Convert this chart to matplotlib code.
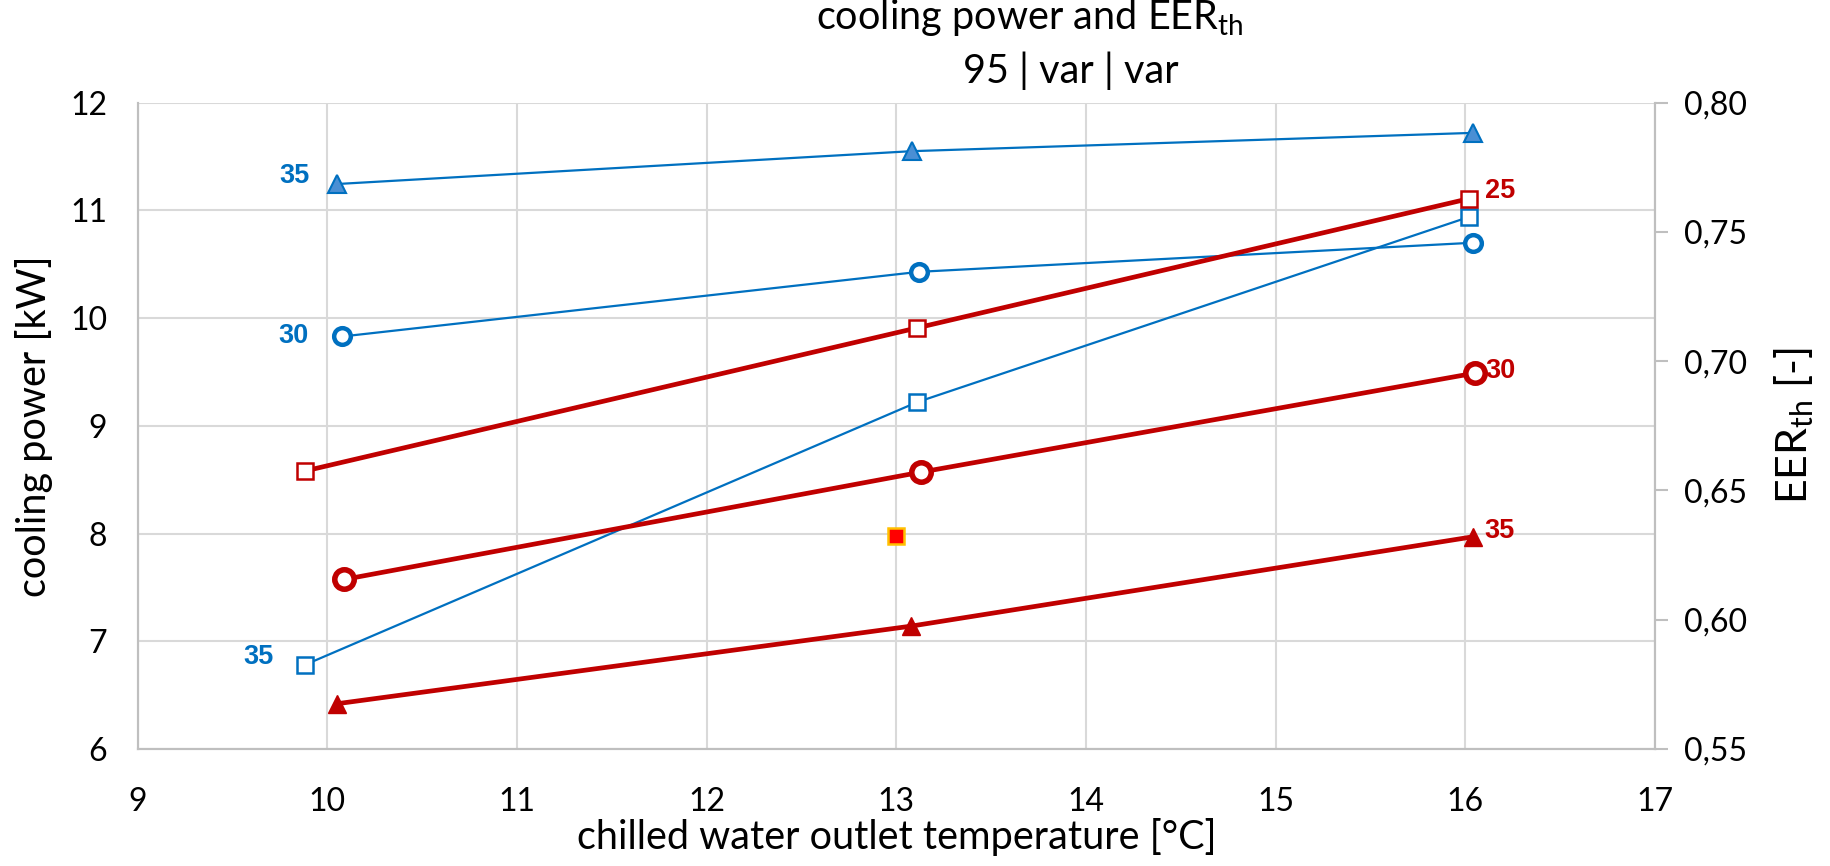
import numpy as np
import matplotlib
matplotlib.use("Agg")
import matplotlib.pyplot as plt
from matplotlib.ticker import FuncFormatter

plt.rcParams['font.family'] = ['Lato', 'DejaVu Sans']
plt.rcParams['mathtext.fontset'] = 'custom'
plt.rcParams['mathtext.rm'] = 'Lato'
plt.rcParams['mathtext.it'] = 'Lato'

# cooling power [kW] (left axis, blue)
x_cp35 = [10.05, 13.08, 16.04]
cp35 = [11.245, 11.55, 11.72]
x_cp30 = [10.08, 13.12, 16.04]
cp30 = [9.83, 10.43, 10.70]
x_cp25 = [9.88, 13.11, 16.02]
cp25 = [6.78, 9.22, 10.94]

# EER_th [-] (right axis, red)
x_eer25 = [9.88, 13.11, 16.02]
eer25 = [0.6575, 0.7129, 0.7629]
x_eer30 = [10.09, 13.13, 16.05]
eer30 = [0.6156, 0.6571, 0.6954]
x_eer35 = [10.05, 13.075, 16.04]
eer35 = [0.5675, 0.5975, 0.6321]
x_single = [13.0]
eer_single = [0.6325]

blue = '#0070C0'
red = '#C00000'
grid = '#D9D9D9'
spine = '#BFBFBF'

fig = plt.figure(figsize=(18.3, 8.66), dpi=100)
ax = fig.add_axes([0.0752, 0.1351, 0.8292, 0.7463])
ax2 = ax.twinx()

ax.plot(x_cp35, cp35, color=blue, lw=1.6, marker='^', ms=13, mfc='#4A8FD4', mec=blue, mew=1.5)
ax.plot(x_cp30, cp30, color=blue, lw=1.6, marker='o', ms=12, mfc='white', mec=blue, mew=3.2)
ax.plot(x_cp25, cp25, color=blue, lw=1.6, marker='s', ms=12, mfc='white', mec=blue, mew=1.8)

ax2.plot(x_eer25, eer25, color=red, lw=3.4, marker='s', ms=12, mfc='white', mec=red, mew=1.8)
ax2.plot(x_eer30, eer30, color=red, lw=3.4, marker='o', ms=14, mfc='white', mec=red, mew=4)
ax2.plot(x_eer35, eer35, color=red, lw=3.4, marker='^', ms=13, mfc=red, mec=red, mew=1)
ax2.plot(x_single, eer_single, ls='none', marker='s', ms=12, mfc='#FF0000', mec='#FFC000', mew=1.8)

lab = dict(fontsize=19.5, fontweight='bold', family='Liberation Sans', textcoords='offset pixels', va='center')
ax.annotate('35', (x_cp35[0], cp35[0]), xytext=(-27, 8), ha='right', color=blue, **lab)
ax.annotate('30', (x_cp30[0], cp30[0]), xytext=(-34, 0), ha='right', color=blue, **lab)
ax.annotate('35', (x_cp25[0], cp25[0]), xytext=(-31, 8), ha='right', color=blue, **lab)
ax2.annotate('25', (x_eer25[2], eer25[2]), xytext=(16, 8), ha='left', color=red, **lab)
ax2.annotate('30', (x_eer30[2], eer30[2]), xytext=(11, 2), ha='left', color=red, **lab)
ax2.annotate('35', (x_eer35[2], eer35[2]), xytext=(11, 6), ha='left', color=red, **lab)

ax.set_xlim(9, 17)
ax.set_ylim(6, 12)
ax2.set_ylim(0.55, 0.80)
ax.set_xticks(np.arange(9, 18, 1))
ax.set_yticks(np.arange(6, 13, 1))
ax2.set_yticks(np.arange(0.55, 0.801, 0.05))
ax2.yaxis.set_major_formatter(FuncFormatter(lambda v, p: f'{v:.2f}'.replace('.', ',')))

ax.grid(True, color=grid, lw=1.5)
ax.set_axisbelow(True)
for a in (ax, ax2):
    a.spines['top'].set_visible(False)
    for s in ('left', 'right', 'bottom'):
        a.spines[s].set_color(spine)
        a.spines[s].set_linewidth(1.5)
ax.tick_params(axis='both', length=0, labelsize=23, pad=22)
ax.tick_params(axis='x', pad=27)
ax2.tick_params(axis='y', length=9, width=1.5, color=spine, labelsize=23, pad=12)

ax.set_xlabel('chilled water outlet temperature [°C]', fontsize=28.5, labelpad=1)
ax.set_ylabel('cooling power [kW]', fontsize=28.5, labelpad=12)
ax2.set_ylabel(r'EER$_{\mathrm{th}}$ [-]', fontsize=31, labelpad=18)

fig.text(1030 / 1830, 1 - 29 / 866, r'cooling power and EER$_{\mathrm{th}}$', fontsize=28.5, ha='center', va='baseline')
fig.text(1071 / 1830, 1 - 83 / 866, '95 | var | var', fontsize=28.5, ha='center', va='baseline')

fig.savefig('out.png', dpi=100)
